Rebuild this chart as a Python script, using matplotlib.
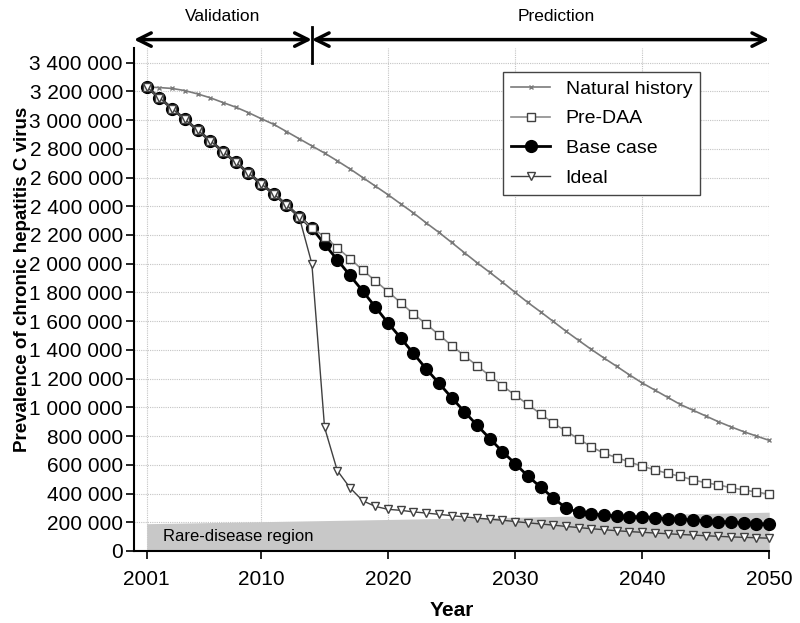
import numpy as np
import matplotlib
matplotlib.use("Agg")
import matplotlib.pyplot as plt
from matplotlib.ticker import FuncFormatter

plt.rcParams['font.family'] = ['Liberation Sans', 'DejaVu Sans']

years = list(range(2001, 2051))

# prevalence, thousands of people
natural_history = [3230, 3226, 3220, 3205, 3182, 3155, 3122, 3090, 3052, 3010,
                   2970, 2920, 2870, 2820, 2770, 2716, 2660, 2600, 2540, 2480,
                   2416, 2353, 2284, 2218, 2148, 2077, 2007, 1940, 1872, 1800,
                   1730, 1665, 1598, 1530, 1466, 1403, 1343, 1285, 1226, 1170,
                   1120, 1070, 1020, 980, 940, 900, 864, 830, 800, 770]
pre_daa = [3230, 3155, 3080, 3005, 2930, 2856, 2781, 2706, 2632, 2557,
           2486, 2409, 2327, 2249, 2188, 2111, 2035, 1956, 1880, 1805,
           1728, 1650, 1580, 1505, 1430, 1360, 1290, 1220, 1150, 1085,
           1020, 955, 890, 835, 780, 725, 680, 650, 620, 590,
           565, 540, 520, 495, 475, 460, 440, 425, 410, 395]
base_case = [3230, 3155, 3080, 3005, 2930, 2856, 2781, 2706, 2632, 2557,
             2486, 2409, 2327, 2249, 2135, 2028, 1918, 1810, 1698, 1587,
             1482, 1375, 1268, 1168, 1068, 970, 876, 783, 692, 608,
             522, 445, 370, 298, 270, 258, 250, 244, 240, 236,
             231, 226, 221, 216, 210, 205, 200, 195, 191, 187]
ideal = [3230, 3155, 3080, 3005, 2930, 2856, 2781, 2706, 2632, 2557,
         2486, 2409, 2327, 2000, 860, 560, 440, 350, 310, 290,
         283, 272, 264, 255, 246, 237, 229, 221, 214, 205,
         196, 188, 180, 171, 163, 155, 148, 141, 135, 130,
         125, 120, 115, 111, 106, 102, 98, 95, 92, 89]

# rare-disease threshold (thousands)
rare_years = [2001, 2014, 2030, 2050]
rare_top = [190, 210, 235, 270]

x_ticks = [2001, 2010, 2020, 2030, 2040, 2050]
y_ticks = list(range(0, 3400001, 200000))
split_year = 2014

k = 1000
fig = plt.figure(figsize=(8, 6.23), dpi=100)
ax = fig.add_axes([0.1675, 0.1156, 0.794, 0.807])

ax.fill_between(rare_years, 0, np.array(rare_top) * k, color='#c8c8c8',
                lw=0, zorder=1)
ax.text(2002.3, 100000, 'Rare-disease region', fontsize=12, va='center',
        zorder=2)

h_nat, = ax.plot(years, np.array(natural_history) * k, color='#7a7a7a', lw=1.2,
                 marker='x', ms=3.5, mew=1, zorder=3, clip_on=False,
                 label='Natural history')
h_base, = ax.plot(years, np.array(base_case) * k, color='black', lw=2,
                  marker='o', ms=8.5, mfc='black', zorder=3, clip_on=False,
                  label='Base case')
h_pre, = ax.plot(years, np.array(pre_daa) * k, color='#8c8c8c', lw=1.2,
                 marker='s', ms=5.5, mfc='white', mec='#404040', mew=1,
                 zorder=4, clip_on=False, label='Pre-DAA')
h_ideal, = ax.plot(years, np.array(ideal) * k, color='#404040', lw=1,
                   marker='v', ms=6, mfc='white', mec='#404040', mew=1,
                   zorder=5, clip_on=False, label='Ideal')

ax.set_xlim(2000, 2050)
ax.set_ylim(0, 3500000)
ax.set_xticks(x_ticks)
ax.set_yticks(y_ticks)
ax.yaxis.set_major_formatter(FuncFormatter(lambda v, p: f"{int(v):,}".replace(",", " ")))
ax.tick_params(labelsize=15, length=6, width=1.2, direction='out')
ax.tick_params(axis='x', pad=8)
ax.tick_params(axis='y', pad=2)
ax.grid(True, color='#c4c4c4', linestyle=(0, (1, 1)), lw=0.8, zorder=0)
ax.set_axisbelow(True)
for s in ['top', 'right']:
    ax.spines[s].set_visible(False)
for s in ['left', 'bottom']:
    ax.spines[s].set_linewidth(1.5)

ax.set_xlabel('Year', fontsize=15, fontweight='bold', labelpad=8)
ax.set_ylabel('Prevalence of chronic hepatitis C virus', fontsize=13.5,
              fontweight='bold')
ax.yaxis.set_label_coords(-0.162, 0.54)

leg = ax.legend(handles=[h_nat, h_pre, h_base, h_ideal], fontsize=14,
                loc='upper right', bbox_to_anchor=(0.891, 0.952),
                borderaxespad=0, fancybox=False, framealpha=1,
                edgecolor='#444444', handlelength=2.0, labelspacing=0.62)
leg.get_frame().set_linewidth(1)

# validation / prediction arrows above the axes
arrow_y = 3560000
arrow_kw = dict(arrowstyle='<->', lw=2.5, color='black', mutation_scale=24,
                shrinkA=0, shrinkB=0)
ax.annotate('', xy=(2000, arrow_y), xytext=(split_year, arrow_y),
            arrowprops=arrow_kw, annotation_clip=False)
ax.annotate('', xy=(split_year, arrow_y), xytext=(2050, arrow_y),
            arrowprops=arrow_kw, annotation_clip=False)
ax.plot([split_year, split_year], [3400000, 3650000], color='black', lw=2,
        clip_on=False)
ax.text(2007, 3720000, 'Validation', fontsize=12.5, ha='center', va='center')
ax.text(2033.2, 3720000, 'Prediction', fontsize=12.5, ha='center', va='center')

fig.savefig('out.png', dpi=100)
